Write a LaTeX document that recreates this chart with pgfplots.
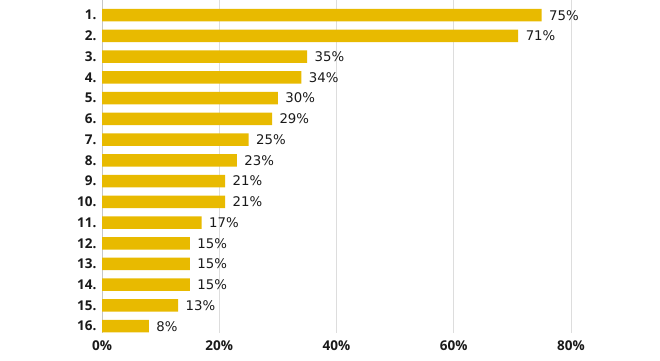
\documentclass[border=0pt]{standalone}
\usepackage{pgfplots}
\pgfplotsset{compat=1.18}
\usepackage{fontspec}
\setmainfont{DejaVu Sans}
\newfontfamily\tickfont{Open Sans}
\definecolor{bar}{HTML}{E8BA00}
\definecolor{gridc}{HTML}{DDDDDD}
\definecolor{txt}{HTML}{1A1A1A}
\begin{document}
\begin{tikzpicture}
\begin{axis}[
  scale only axis,
  width=527.6pt, height=332.7pt,
  xmin=0, xmax=90,
  ymin=0.28, ymax=16.33,
  y dir=reverse,
  xbar, bar width=12.5pt,
  xtick={0,20,40,60,80},
  xticklabels={0\%,20\%,40\%,60\%,80\%},
  ytick={1,...,16},
  yticklabels={1.,2.,3.,4.,5.,6.,7.,8.,9.,10.,11.,12.,13.,14.,15.,16.},
  xmajorgrids=true, ymajorgrids=false,
  major grid style={draw=gridc, line width=0.8pt},
  axis line style={draw=none},
  major tick length=0pt,
  tick style={draw=none},
  ticklabel style={font=\tickfont\bfseries\fontsize{13.5}{13.5}\selectfont, text=txt},
  xticklabel style={yshift=-4pt},
  yticklabel style={xshift=-2pt},
  xtick pos=bottom, ytick pos=left,
  /pgf/number format/assume math mode=true,
  nodes near coords={\pgfmathprintnumber{\pgfplotspointmeta}\%},
  point meta=x,
  nodes near coords style={anchor=west, xshift=4pt, font=\fontsize{13.3}{13.3}\selectfont, text=txt},
  clip=false,
]
\draw[draw=black!22, line width=0.8pt] (axis cs:0,0.28) -- (axis cs:0,16.33);
\addplot[fill=bar, draw=none] coordinates {
(75,1) (71,2) (35,3) (34,4) (30,5) (29,6) (25,7) (23,8)
(21,9) (21,10) (17,11) (15,12) (15,13) (15,14) (13,15) (8,16)};
\coordinate (bl) at (axis cs:0,16.33);
\end{axis}
\pgfresetboundingbox
\path[use as bounding box] ([shift={(-102pt,-27pt)}]bl) rectangle ([shift={(558pt,333pt)}]bl);
\end{tikzpicture}
\end{document}
